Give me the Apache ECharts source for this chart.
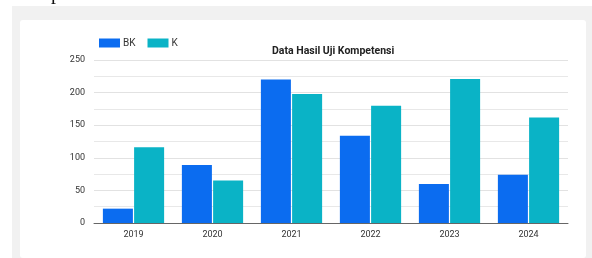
<!DOCTYPE html>
<html>
<head>
<meta charset="utf-8">
<script src="https://cdn.jsdelivr.net/npm/echarts@6/dist/echarts.min.js"></script>
<style>
  html, body { margin: 0; padding: 0; background: #fff; }
  #wrap { position: relative; width: 592px; height: 258px; overflow: hidden; }
  .outer { position: absolute; left: 12px; top: 6px; width: 580px; height: 252px; background: #f1f1f1; }
  .card { position: absolute; left: 20px; top: 20px; width: 566px; height: 238px; background: #fff; border-radius: 3px; }
  #chart { position: absolute; left: 0; top: 0; width: 592px; height: 258px; }
</style>
</head>
<body>
<div id="wrap">
  <div class="outer"></div>
  <div class="card"></div>
  <div id="chart"></div>
</div>
<script>
  // data
  const years = ['2019', '2020', '2021', '2022', '2023', '2024'];
  const bk = [22, 89, 220, 134, 60, 74];
  const k = [116, 65, 198, 180, 221, 162];

  let chart = echarts.init(document.getElementById('chart'));
  chart.setOption({
    backgroundColor: 'transparent',
    animation: false,
    textStyle: { fontFamily: 'Roboto' },
    color: ['#0b6cf0', '#0ab3c6'],
    title: {
      text: 'Data Hasil Uji Kompetensi',
      left: 267,
      top: 41,
      textStyle: { fontSize: 10.5, fontWeight: 'bold', color: '#222', fontFamily: 'Roboto' }
    },
    legend: {
      left: 94,
      top: 33,
      itemWidth: 21,
      itemHeight: 9,
      itemGap: 12,
      icon: 'rect',
      textStyle: { fontSize: 10, color: '#333', padding: [0, 0, 0, -2] }
    },
    grid: { left: 94, right: 24, top: 60, bottom: 35 },
    xAxis: {
      type: 'category',
      data: years,
      axisTick: { show: false },
      axisLine: { lineStyle: { color: '#666', width: 1 } },
      axisLabel: { fontSize: 9, color: '#333', margin: 7 }
    },
    yAxis: {
      type: 'value',
      min: 0,
      max: 250,
      interval: 50,
      axisLine: { show: false },
      axisTick: { show: false },
      axisLabel: { fontSize: 9, color: '#333', margin: 9 },
      splitLine: { lineStyle: { color: '#e2e2e2' } },
      minorTick: { show: false, splitNumber: 2 },
      minorSplitLine: { show: true, lineStyle: { color: '#e8e8e8' } }
    },
    graphic: [{
      type: 'text',
      left: 51,
      top: -16,
      style: { text: 'p', fontSize: 20, fontFamily: 'Liberation Serif', fill: '#111' }
    }],
    series: [
      { name: 'BK', type: 'bar', data: bk, barWidth: '38%', barGap: '4%' },
      { name: 'K', type: 'bar', data: k, barWidth: '38%', barGap: '4%' }
    ]
  });
</script>
</body>
</html>
